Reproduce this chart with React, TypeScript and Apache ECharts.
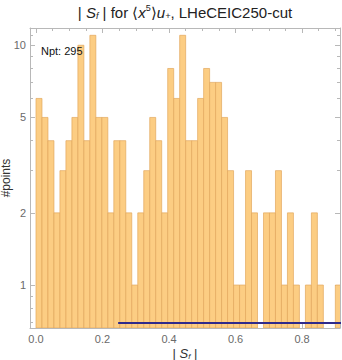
import React, { useEffect, useRef } from "react";
import * as echarts from "echarts";

// Histogram bins (|S_f|), counts per bin
const binStart = 0;
const binWidth = 0.018;
const counts = [
  6, 5, 4, 2, 3, 4, 5, 10, 4, 11, 5, 5,
  2, 4, 4, 2, 1, 2, 3, 5, 4, 2, 8, 6,
  11, 4, 4, 6, 8, 7, 7, 5, 3, 1, 1, 3, 2,
  0, 2, 2, 3, 1, 2, 1, 0, 1, 2, 1, 0, 0, 1,
];
const nptLabel = "Npt: 295";
// blue reference line
const refLineX = [0.247, 0.92];
const refLineY = 0.695;

// axes
const xMin = -0.018;
const xMax = 0.914;
const yMin = 0.662;
const yMax = 11.8;
const xMajorTicks = [0, 0.2, 0.4, 0.6, 0.8];
const xMinorTicks = [0.05, 0.1, 0.15, 0.25, 0.3, 0.35, 0.45, 0.5, 0.55, 0.65, 0.7, 0.75, 0.85, 0.9];
const yMajorTicks = [1, 2, 5, 10];
const yMinorTicks = [0.7, 0.8, 0.9, 3, 4, 6, 7, 8, 9, 11];

const FONT = "Liberation Sans, Arial, sans-serif";
const FRAME = "#b8b8b8";
const LABEL = "#6a6a6a";

export default function App() {
  const ref = useRef<HTMLDivElement>(null);
  useEffect(() => {
    if (!ref.current) return;
    const chart = echarts.init(ref.current, undefined, { renderer: "svg" });
    const histData = counts.map((c, i) => [
      binStart + i * binWidth,
      binStart + (i + 1) * binWidth,
      c,
    ]);
    const grid = { left: 30, top: 28, width: 310, height: 300, outerBoundsMode: "none", containLabel: false };
    const baseX = (pos: "bottom" | "top") => ({
      type: "value" as const,
      min: xMin,
      max: xMax,
      position: pos,
      splitLine: { show: false },
    });
    const baseY = (pos: "left" | "right") => ({
      type: "log" as const,
      logBase: 10,
      min: yMin,
      max: yMax,
      position: pos,
      splitLine: { show: false },
      minorTick: { show: false },
      minorSplitLine: { show: false },
    });
    const noLabel = { show: false };
    const line = (show: boolean) => ({ show, onZero: false, lineStyle: { color: FRAME, width: 1 } });
    chart.setOption({
      animation: false,
      grid,
      xAxis: [
        {
          ...baseX("bottom"),
          axisLine: line(true),
          axisTick: { show: true, inside: true, length: 5, customValues: xMajorTicks, lineStyle: { color: FRAME } },
          axisLabel: {
            show: true,
            customValues: xMajorTicks,
            formatter: (v: number) => v.toFixed(1),
            color: LABEL,
            fontFamily: FONT,
            fontSize: 11,
            margin: 5,
          },
          name: "{b|| }{i|S}{s|f}{b| |}",
          nameLocation: "middle",
          nameGap: 19,
          nameMoveOverlap: false,
          nameTextStyle: {
            rich: {
              b: { fontFamily: FONT, fontSize: 13, color: "#333" },
              i: { fontFamily: FONT, fontSize: 13, fontStyle: "italic", color: "#333" },
              s: { fontFamily: FONT, fontSize: 8, fontStyle: "italic", color: "#333", verticalAlign: "bottom", padding: [4, 0, 0, 0] },
            },
          },
        },
        {
          ...baseX("bottom"),
          axisLine: line(false),
          axisTick: { show: true, inside: true, length: 3, customValues: xMinorTicks, lineStyle: { color: FRAME } },
          axisLabel: noLabel,
        },
        {
          ...baseX("top"),
          axisLine: line(true),
          axisTick: { show: true, inside: true, length: 5, customValues: xMajorTicks, lineStyle: { color: FRAME } },
          axisLabel: noLabel,
        },
        {
          ...baseX("top"),
          axisLine: line(false),
          axisTick: { show: true, inside: true, length: 3, customValues: xMinorTicks, lineStyle: { color: FRAME } },
          axisLabel: noLabel,
        },
      ],
      yAxis: [
        {
          ...baseY("left"),
          axisLine: line(true),
          axisTick: { show: true, inside: true, length: 5, customValues: yMajorTicks, lineStyle: { color: FRAME } },
          axisLabel: {
            show: true,
            customValues: yMajorTicks,
            color: LABEL,
            fontFamily: FONT,
            fontSize: 11,
            margin: 4,
          },
          name: "#points",
          nameLocation: "middle",
          nameGap: 18,
          nameRotate: 90,
          nameMoveOverlap: false,
          nameTextStyle: { fontFamily: FONT, fontSize: 12, color: "#333" },
        },
        {
          ...baseY("left"),
          axisLine: line(false),
          axisTick: { show: true, inside: true, length: 3, customValues: yMinorTicks, lineStyle: { color: FRAME } },
          axisLabel: noLabel,
        },
        {
          ...baseY("right"),
          axisLine: line(true),
          axisTick: { show: true, inside: true, length: 5, customValues: yMajorTicks, lineStyle: { color: FRAME } },
          axisLabel: noLabel,
        },
        {
          ...baseY("right"),
          axisLine: line(false),
          axisTick: { show: true, inside: true, length: 3, customValues: yMinorTicks, lineStyle: { color: FRAME } },
          axisLabel: noLabel,
        },
      ],
      graphic: [
        {
          type: "text",
          x: 185,
          y: 12,
          z: 100,
          style: {
            text: "{b|| }{i|S}{s|f}{b| | for ⟨}{i|x}{p|5}{b|⟩}{i|u}{s|+}{b|, LHeCEIC250-cut}",
            align: "center",
            verticalAlign: "middle",
            rich: {
              b: { fontFamily: FONT, fontSize: 15, fill: "#222" },
              i: { fontFamily: FONT, fontSize: 15, fontStyle: "italic", fill: "#222" },
              s: { fontFamily: FONT, fontSize: 9, fontStyle: "italic", fill: "#222", verticalAlign: "bottom", padding: [8, 0, 0, 0] },
              p: { fontFamily: FONT, fontSize: 9, fill: "#222", verticalAlign: "top", padding: [0, 0, 8, 0] },
            },
          },
        },
        {
          type: "text",
          x: 41,
          y: 51,
          z: 100,
          style: {
            text: nptLabel,
            fontFamily: FONT,
            fontSize: 11,
            fill: "#111",
            verticalAlign: "middle",
          },
        },
      ],
      series: [
        {
          type: "custom",
          xAxisIndex: 0,
          yAxisIndex: 0,
          clip: true,
          encode: { x: [0, 1], y: 2 },
          data: histData,
          renderItem: (params: any, api: any) => {
            const x0 = api.value(0);
            const x1 = api.value(1);
            const c = api.value(2);
            if (!c) return null;
            const pTop = api.coord([x0, c]);
            const pBot = api.coord([x1, yMin]);
            return {
              type: "rect",
              shape: {
                x: pTop[0],
                y: pTop[1],
                width: pBot[0] - pTop[0],
                height: pBot[1] - pTop[1],
              },
              style: { fill: "#fccd83", stroke: "#e2a75c", lineWidth: 0.7 },
            };
          },
        },
        {
          type: "line",
          xAxisIndex: 0,
          yAxisIndex: 0,
          data: [
            [refLineX[0], refLineY],
            [refLineX[1], refLineY],
          ],
          showSymbol: false,
          symbol: "none",
          clip: true,
          lineStyle: { color: "#2e2a8c", width: 2 },
          z: 5,
        },
      ],
    });
    return () => chart.dispose();
  }, []);
  return (
    <div
      ref={ref}
      style={{ position: "fixed", left: 0, top: 0, width: 342, height: 360, background: "#fff" }}
    />
  );
}
